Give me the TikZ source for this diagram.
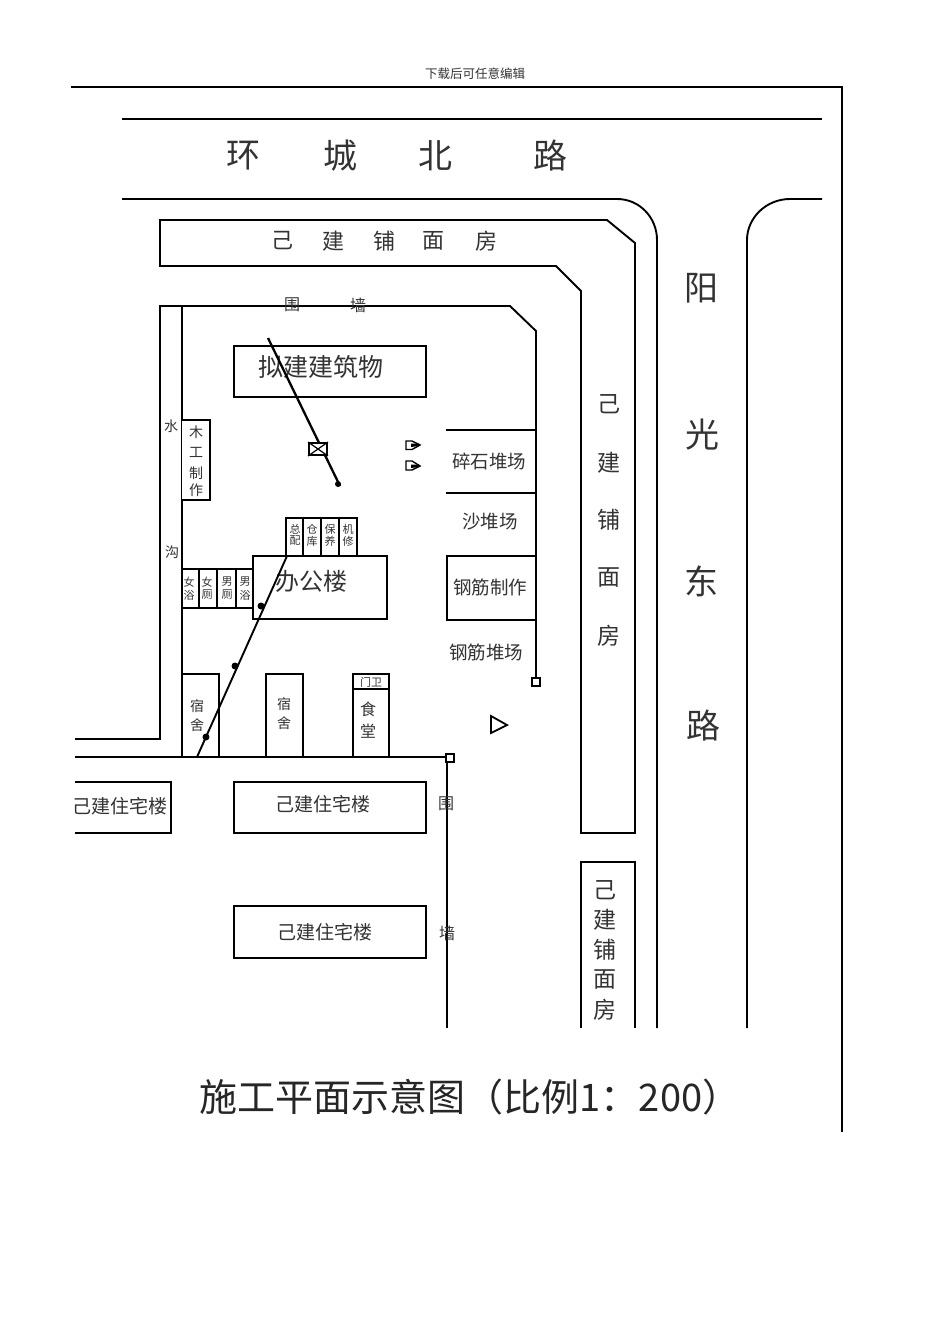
\documentclass[tikz,border=0pt]{standalone}
\usepackage{fontspec}
\setmainfont{Noto Sans CJK SC}
\tikzset{
  wall/.style={line width=1.9pt,black},
  room/.style={draw,line width=1.9pt,fill=white},
  lbl/.style={inner sep=0pt,text=black!80,align=center},
  tower/.style={line width=2.3pt},
  dotm/.style={circle,fill=black,inner sep=0pt,minimum size=7pt},
  flag/.style={line width=1.4pt,fill=white},
  endsq/.style={draw,line width=2pt,fill=white,minimum size=8pt,inner sep=0pt}
}
\newcommand{\fs}[1]{\fontsize{#1}{#1}\selectfont}
\begin{document}
\begin{tikzpicture}[x=1pt,y=-1pt]
\useasboundingbox[fill=white] (0,0) rectangle (950,1344);
\node[lbl,font=\fs{12.5}] (hdr) at (475,74) {下载后可任意编辑};
% frame
\draw[wall] (71,87) -- (842,87) -- (842,1132);
% roads
\draw[wall] (122,119) -- (822,119);
\draw[wall] (122,199) -- (617,199) .. controls (640,199) and (657,218) .. (657,240) -- (657,1028);
\draw[wall] (822,199) -- (790,199) .. controls (766,199) and (747,218) .. (747,240) -- (747,1028);
\node[lbl,font=\fs{34}] (r1) at (243,156) {环};
\node[lbl,font=\fs{34}] (r2) at (340,156) {城};
\node[lbl,font=\fs{34}] (r3) at (435,156) {北};
\node[lbl,font=\fs{34}] (r4) at (550,156) {路};
\node[lbl,font=\fs{34}] (e1) at (701,288) {阳};
\node[lbl,font=\fs{34}] (e2) at (702,435) {光};
\node[lbl,font=\fs{34}] (e3) at (701,581) {东};
\node[lbl,font=\fs{34}] (e4) at (703,726) {路};
% shops
\draw[wall] (160,220) -- (607,220) -- (635,243) -- (635,833) -- (581,833) -- (581,291) -- (556,266) -- (160,266) -- cycle;
\draw[wall] (581,1028) -- (581,862) -- (635,862) -- (635,1028);
\foreach \t/\x in {己/282,建/333,铺/384,面/433,房/486}{\node[lbl,font=\fs{22}] at (\x,241) {\t};}
\foreach \t/\y in {己/404,建/463,铺/520,面/578,房/636}{\node[lbl,font=\fs{23}] at (609,\y) {\t};}
\foreach \t/\y in {己/890,建/920,铺/950,面/980,房/1010}{\node[lbl,font=\fs{23}] at (605,\y) {\t};}
% walls
\draw[wall] (75,739) -- (160,739) -- (160,306) -- (510,306) -- (536,331) -- (536,681);
\draw[wall] (182,306) -- (182,757);
\draw[wall] (75,757) -- (449,757);
\draw[wall] (447,757) -- (447,1028);
\node[endsq] (sq1) at (536,681.5) {};
\node[endsq] (sq2) at (449.5,757.5) {};
\node[lbl,font=\fs{16}] (w1) at (292,305) {围};
\node[lbl,font=\fs{16}] (w2) at (358,305) {墙};
\node[lbl,font=\fs{14}] (w3) at (171,426) {水};
\node[lbl,font=\fs{14}] (w4) at (172,552) {沟};
\node[lbl,font=\fs{16}] (w5) at (446,804) {围};
\node[lbl,font=\fs{16}] (w6) at (447,933) {墙};
% planned building
\draw[room] (234,346) rectangle (426,397);
\node[lbl,font=\fs{25}] (nb) at (320.5,367) {拟建建筑物};
% carpentry
\draw[room] (182,420) -- (210,420) -- (210,500) -- (182,500);
\foreach \t/\y in {木/432,工/452,制/473,作/490}{\node[lbl,font=\fs{14}] at (196,\y) {\t};}
% small rooms top
\draw[room] (286,518) rectangle (303,556);
\draw[room] (303,518) rectangle (321,556);
\draw[room] (321,518) rectangle (339,556);
\draw[room] (339,518) rectangle (357,556);
\foreach \a/\b/\x in {总/配/295,仓/库/312,保/养/330,机/修/348}{
  \node[lbl,font=\fs{11}] at (\x,529) {\a};
  \node[lbl,font=\fs{11}] at (\x,541) {\b};}
% toilets
\draw[room] (182,569) rectangle (199,608);
\draw[room] (199,569) rectangle (217,608);
\draw[room] (217,569) rectangle (236,608);
\draw[room] (236,569) rectangle (253,608);
\foreach \a/\b/\x in {女/浴/189,女/厕/207,男/厕/227,男/浴/245}{
  \node[lbl,font=\fs{11}] at (\x,582) {\a};
  \node[lbl,font=\fs{11}] at (\x,595) {\b};}
% office
\draw[room] (253,556) rectangle (387,619);
\node[lbl,font=\fs{24}] (of) at (311,581) {办公楼};
% dorms etc
\draw[room] (182,674) rectangle (219,757);
\draw[room] (266,674) rectangle (303,757);
\draw[room] (353,674) rectangle (389,757);
\draw[wall] (353,689) -- (389,689);
\node[lbl,font=\fs{11}] (gd) at (371,682) {门卫};
\foreach \t/\y in {宿/706,舍/725}{\node[lbl,font=\fs{14}] at (197,\y) {\t};}
\foreach \t/\y in {宿/704,舍/723}{\node[lbl,font=\fs{14}] at (284,\y) {\t};}
\foreach \t/\y in {食/709,堂/731}{\node[lbl,font=\fs{16}] at (368,\y) {\t};}
% yards
\draw[wall] (446,430) -- (536,430);
\draw[wall] (446,493) -- (536,493);
\draw[wall] (536,556) -- (447,556) -- (447,620) -- (536,620);
\node[lbl,font=\fs{18.5}] (y1) at (489,461) {碎石堆场};
\node[lbl,font=\fs{18.5}] (y2) at (490,522) {沙堆场};
\node[lbl,font=\fs{18.5}] (y3) at (490,587) {钢筋制作};
\node[lbl,font=\fs{18.5}] (y4) at (486,652) {钢筋堆场};
% residences
\draw[wall] (75,782) -- (171,782) -- (171,833) -- (75,833);
\draw[room] (234,782) rectangle (426,833);
\draw[room] (234,906) rectangle (426,958);
\node[lbl,font=\fs{19}] (h1) at (120,806) {己建住宅楼};
\node[lbl,font=\fs{19}] (h2) at (323,804) {己建住宅楼};
\node[lbl,font=\fs{19}] (h3) at (324.5,932) {己建住宅楼};
% tower crane track
\coordinate (ta) at (268,338);
\coordinate (tb) at (340,486);
\draw[tower] (ta) -- (tb);
\node[dotm,minimum size=6pt] (td) at (338,484) {};
\node[draw,line width=2pt,fill=white,minimum width=18pt,minimum height=12pt,inner sep=0pt] (crane) at (318,449) {};
\draw[line width=1.2pt] (crane.north west) -- (crane.south east) (crane.south west) -- (crane.north east);
% line
\coordinate (la) at (197,757);
\coordinate (lb) at (287,556);
\draw[line width=1.9pt] (la) -- (lb);
\node[dotm] (d1) at (206,737) {};
\node[dotm] (d2) at (235,666) {};
\node[dotm] (d3) at (261,606) {};
% flags
\draw[flag] (406,441) -- (406,449.5) -- (412,449.5) -- (420,445) -- (412,441) -- cycle;
\fill (411,443.5) -- (419,443.5) -- (419,446) -- (411,447) -- cycle;
\draw[flag] (406,461) -- (406,470) -- (412,470) -- (420,466) -- (412,461) -- cycle;
\fill (411,464.5) -- (419,464.5) -- (419,467) -- (411,468) -- cycle;
\draw[flag,line width=1.8pt] (491,716) -- (491,733) -- (507,725) -- cycle;
% title
\node[lbl,font=\fs{38},text=black!85] (title) at (470,1097) {施工平面示意图（比例1：200）};
\end{tikzpicture}
\end{document}
